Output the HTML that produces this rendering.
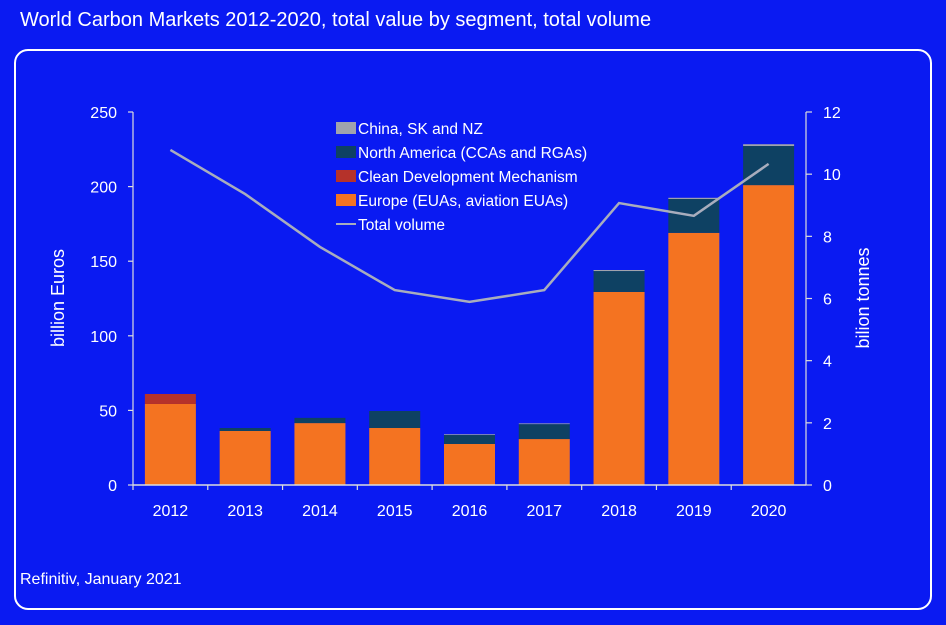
<!DOCTYPE html>
<html><head><meta charset="utf-8">
<style>
html,body{margin:0;padding:0;background:#0a1af2;}
body{width:946px;height:620px;overflow:hidden;font-family:"Liberation Sans",sans-serif;}
</style></head>
<body>
<svg id="chart" width="946" height="620" xmlns="http://www.w3.org/2000/svg" style="font-family:'Liberation Sans',sans-serif">
<rect x="0" y="0" width="946" height="620" fill="#0a1af2"/>
<text x="20" y="26" fill="#fff" font-size="20">World Carbon Markets 2012-2020, total value by segment, total volume</text>
<rect x="15" y="50" width="916" height="559" rx="13" fill="none" stroke="#fff" stroke-width="2"/>
<text x="20" y="584" fill="#fff" font-size="16">Refinitiv, January 2021</text>
<g id="plot"></g>
</svg>
<script>
const categories=["2012","2013","2014","2015","2016","2017","2018","2019","2020"];
const europe=[54.3,36.2,41.5,38.2,27.5,30.8,129.4,169,201];
const cdm=[6.7,0,0,0,0,0,0,0,0];
const northAmerica=[0,2,3.5,11.4,6,10,14,22.7,26.2];
const china=[0,0,0,0,0.5,0.5,0.7,0.8,1.2];
const volume=[10.78,9.36,7.66,6.27,5.89,6.27,9.07,8.66,10.33];
const leftTicks=[0,50,100,150,200,250];
const rightTicks=[0,2,4,6,8,10,12];

const NS="http://www.w3.org/2000/svg";
const g=document.getElementById('plot');
const X0=133,X1=806,Y0=485,Y1=112;
const band=(X1-X0)/categories.length;
const xc=i=>X0+band*(i+0.5);
const yl=v=>Y0-(v/250)*(Y0-Y1);
const yr=v=>Y0-(v/12)*(Y0-Y1);
const bw=51;
function mk(tag,attrs){const e=document.createElementNS(NS,tag);for(const k in attrs)e.setAttribute(k,attrs[k]);g.appendChild(e);return e;}

// bars
categories.forEach((c,i)=>{
  let base=0;
  [[europe,'#f47321','bar-europe'],[cdm,'#b5322a','bar-cdm'],[northAmerica,'#0e4163','bar-north-america'],[china,'#a0a3ad','bar-china']].forEach(([arr,col,nm])=>{
    const v=arr[i];
    if(v>0){
      const r=mk('rect',{x:xc(i)-bw/2,y:yl(base+v),width:bw,height:yl(base)-yl(base+v),fill:col});
      
      
    }
    base+=v;
  });
  const t=mk('text',{x:xc(i),y:516,fill:'#fff','font-size':16,'text-anchor':'middle'});
  t.textContent=c;
  
  
  const tk=mk('line',{x1:X0+band*i,x2:X0+band*i,y1:Y0,y2:Y0+5,stroke:'#ddd','stroke-width':1.2});
  
  
});
// axes
let a=mk('line',{x1:X0,x2:X1,y1:Y0,y2:Y0,stroke:'#ddd','stroke-width':1.5});


a=mk('line',{x1:X0,x2:X0,y1:Y1,y2:Y0,stroke:'#ddd','stroke-width':1.2});


a=mk('line',{x1:X1,x2:X1,y1:Y1,y2:Y0,stroke:'#ddd','stroke-width':1.2});


leftTicks.forEach(v=>{
  const l=mk('line',{x1:X0-5,x2:X0,y1:yl(v),y2:yl(v),stroke:'#ddd','stroke-width':1.2});
  
  
  const t=mk('text',{x:X0-16,y:yl(v)+6,fill:'#fff','font-size':16,'text-anchor':'end'});
  t.textContent=v;
  
  
});
rightTicks.forEach(v=>{
  const l=mk('line',{x1:X1,x2:X1+6,y1:yr(v),y2:yr(v),stroke:'#ddd','stroke-width':1.2});
  
  
  const t=mk('text',{x:X1+17,y:yr(v)+6,fill:'#fff','font-size':16,'text-anchor':'start'});
  t.textContent=v;
  
  
});
let t=mk('text',{x:0,y:0,fill:'#fff','font-size':18,'text-anchor':'middle',transform:'translate(64,298) rotate(-90)'});
t.textContent='billion Euros';


t=mk('text',{x:0,y:0,fill:'#fff','font-size':18,'text-anchor':'middle',transform:'translate(869,298) rotate(-90)'});
t.textContent='bilion tonnes';


// line
const pts=volume.map((v,i)=>xc(i)+','+yr(v)).join(' ');
const pl=mk('polyline',{points:pts,fill:'none',stroke:'#a8adbd','stroke-width':2.5});


// legend
const leg=[['China, SK and NZ','#a0a3ad','rect'],['North America (CCAs and RGAs)','#0e4163','rect'],['Clean Development Mechanism','#b5322a','rect'],['Europe (EUAs, aviation EUAs)','#f47321','rect'],['Total volume','#a8adbd','line']];
leg.forEach((d,i)=>{
  const y=128+i*24;
  if(d[2]==='rect'){
    const r=mk('rect',{x:336,y:y-6,width:20,height:12,fill:d[1]});
    
    
  } else {
    const l=mk('line',{x1:336,x2:356,y1:y,y2:y,stroke:d[1],'stroke-width':2});
    
    
  }
  const tt=mk('text',{x:358,y:y+6,fill:'#fff','font-size':15.5});
  tt.textContent=d[0];
  
  
});
</script>
</body></html>
